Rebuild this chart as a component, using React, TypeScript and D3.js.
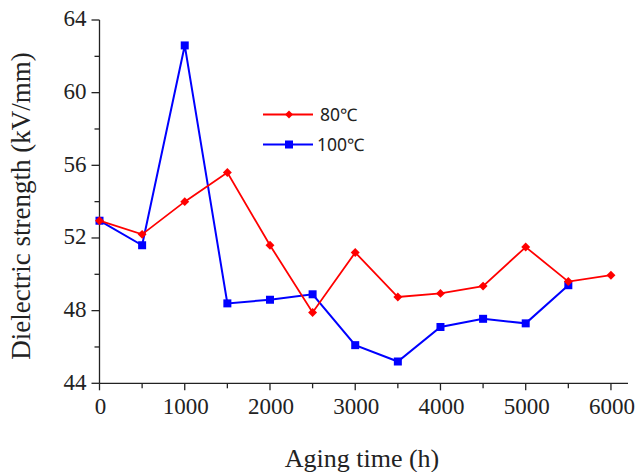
import React, { useEffect, useRef } from "react";
import * as d3 from "d3";

const agingTime = [0, 500, 1000, 1500, 2000, 2500, 3000, 3500, 4000, 4500, 5000, 5500, 6000];
const strength80 = [52.95, 52.2, 54.0, 55.6, 51.6, 47.9, 51.2, 48.75, 48.95, 49.35, 51.5, 49.6, 49.95];
const strength100 = [52.95, 51.6, 62.6, 48.4, 48.6, 48.9, 46.1, 45.2, 47.1, 47.55, 47.3, 49.4];
const xTicks = [0, 1000, 2000, 3000, 4000, 5000, 6000];
const yTicks = [44, 48, 52, 56, 60, 64];
const seriesNames = ["80\u2103", "100\u2103"];

export default function App() {
    const ref = useRef<SVGSVGElement>(null);

    useEffect(() => {
        const width = 636, height = 472;
        const margin = { top: 20, right: 8, bottom: 89, left: 100 };

        const svg = d3.select(ref.current);
        svg.selectAll("*").remove();

        const x = d3.scaleLinear()
            .domain([0, 6200])
            .range([margin.left - 0.5, width - margin.right]);

        const y = d3.scaleLinear()
            .domain([44, 64])
            .range([height - margin.bottom + 0.3, margin.top]);

        const serif = "'Liberation Serif', 'Times New Roman', serif";
        const ink = "#222";

        // x axis
        const gx = svg.append("g")
            .attr("transform", `translate(0,${y(44)})`);
        gx.append("line")
            .attr("x1", x(0)).attr("x2", x(6200))
            .attr("stroke", ink).attr("stroke-width", 1.3);
        gx.selectAll("line.minor")
            .data(d3.range(0, 6001, 500))
            .enter().append("line")
            .attr("x1", d => x(d)).attr("x2", d => x(d))
            .attr("y1", 0).attr("y2", d => (d % 1000 === 0 ? 7 : 5))
            .attr("stroke", ink).attr("stroke-width", 1.3);
        gx.selectAll("text")
            .data(xTicks)
            .enter().append("text")
            .attr("x", d => x(d) + 1).attr("y", 31)
            .attr("text-anchor", "middle")
            .attr("font-family", serif).attr("font-size", 23)
            .attr("fill", ink)
            .text(d => d);

        // y axis
        const gy = svg.append("g")
            .attr("transform", `translate(${x(0)},0)`);
        gy.append("line")
            .attr("y1", y(44)).attr("y2", y(64))
            .attr("stroke", ink).attr("stroke-width", 1.3);
        gy.selectAll("line.minor")
            .data(d3.range(44, 64.1, 2))
            .enter().append("line")
            .attr("y1", d => y(d)).attr("y2", d => y(d))
            .attr("x1", 0).attr("x2", d => (d % 4 === 0 ? -8 : -5))
            .attr("stroke", ink).attr("stroke-width", 1.3);
        gy.selectAll("text")
            .data(yTicks)
            .enter().append("text")
            .attr("x", -13).attr("y", d => y(d))
            .attr("dy", "0.27em")
            .attr("text-anchor", "end")
            .attr("font-family", serif).attr("font-size", 23)
            .attr("fill", ink)
            .text(d => d);

        // axis titles
        svg.append("text")
            .attr("transform", `translate(29.5,206) rotate(-90)`)
            .attr("text-anchor", "middle")
            .attr("font-family", serif).attr("font-size", 27)
            .attr("fill", ink)
            .text("Dielectric strength (kV/mm)");
        svg.append("text")
            .attr("x", 362).attr("y", 467)
            .attr("text-anchor", "middle")
            .attr("font-family", serif).attr("font-size", 26)
            .attr("fill", ink)
            .text("Aging time (h)");

        const line = d3.line<number>()
            .x((d, i) => x(agingTime[i]))
            .y(d => y(d));

        const diamond = d3.symbol().type(d3.symbolSquare).size(40);

        // 100 C series
        svg.append("path")
            .datum(strength100)
            .attr("d", line)
            .attr("fill", "none")
            .attr("stroke", "#0000ff")
            .attr("stroke-width", 2);
        svg.selectAll("rect.pt100")
            .data(strength100)
            .enter().append("rect")
            .attr("x", (d, i) => x(agingTime[i]) - 4)
            .attr("y", d => y(d) - 4)
            .attr("width", 8).attr("height", 8)
            .attr("fill", "#0000ff");

        // 80 C series
        svg.append("path")
            .datum(strength80)
            .attr("d", line)
            .attr("fill", "none")
            .attr("stroke", "#ff0000")
            .attr("stroke-width", 1.8);
        svg.selectAll("path.pt80")
            .data(strength80)
            .enter().append("path")
            .attr("d", diamond)
            .attr("transform", (d, i) => `translate(${x(agingTime[i])},${y(d)}) rotate(45)`)
            .attr("fill", "#ff0000");

        // legend
        const sans = "'Noto Sans', 'DejaVu Sans', sans-serif";
        const legend = svg.append("g").attr("transform", "translate(263,114.5)");
        const colors = ["#ff0000", "#0000ff"];
        seriesNames.forEach((name, i) => {
            const g = legend.append("g").attr("transform", `translate(0,${i * 30})`);
            g.append("line")
                .attr("x1", 0).attr("x2", 50)
                .attr("stroke", colors[i]).attr("stroke-width", 2);
            if (i === 0) {
                g.append("path")
                    .attr("d", d3.symbol().type(d3.symbolSquare).size(32)())
                    .attr("transform", "translate(26,0) rotate(45)")
                    .attr("fill", colors[i]);
            } else {
                g.append("rect")
                    .attr("x", 22).attr("y", -4).attr("width", 8).attr("height", 8)
                    .attr("fill", colors[i]);
            }
            g.append("text")
                .attr("x", i === 0 ? 57 : 54).attr("y", 0)
                .attr("dy", "0.36em")
                .attr("font-family", sans).attr("font-size", 17.5)
                .attr("fill", ink)
                .text(name);
        });
    }, []);

    return (
        <svg ref={ref} width={636} height={472} style={{ position: "absolute", left: 0, top: 0, background: "#fff" }}></svg>
    );
}
